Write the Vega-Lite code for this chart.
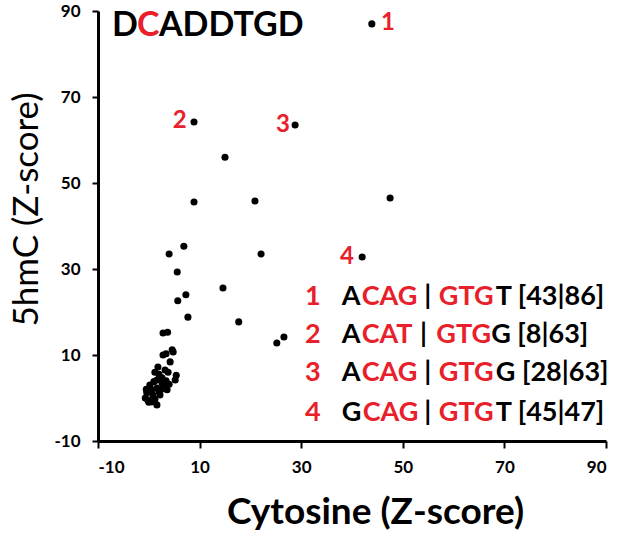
{
  "$schema": "https://vega.github.io/schema/vega-lite/v6.json",
  "width": 508,
  "height": 430,
  "autosize": {"type": "none"},
  "padding": {"left": 98, "top": 11, "right": 19, "bottom": 99},
  "background": "white",
  "config": {"view": {"stroke": null}},
  "datasets": {
    "points": [
      {"cytosine": 43.9, "hmc": 87.0}, {"cytosine": 8.9, "hmc": 64.2}, {"cytosine": 28.8, "hmc": 63.5},
      {"cytosine": 15.0, "hmc": 56.0}, {"cytosine": 8.9, "hmc": 45.6}, {"cytosine": 20.9, "hmc": 45.8},
      {"cytosine": 47.5, "hmc": 46.5}, {"cytosine": 4.0, "hmc": 33.5}, {"cytosine": 6.9, "hmc": 35.3},
      {"cytosine": 22.1, "hmc": 33.5}, {"cytosine": 42.0, "hmc": 32.8}, {"cytosine": 5.6, "hmc": 29.3},
      {"cytosine": 14.6, "hmc": 25.6}, {"cytosine": 7.3, "hmc": 24.0}, {"cytosine": 5.7, "hmc": 22.6},
      {"cytosine": 7.7, "hmc": 18.8}, {"cytosine": 17.7, "hmc": 17.7}, {"cytosine": 25.2, "hmc": 12.8},
      {"cytosine": 26.6, "hmc": 14.2}, {"cytosine": 2.8, "hmc": 15.1}, {"cytosine": 3.7, "hmc": 15.3},
      {"cytosine": 4.6, "hmc": 11.2}, {"cytosine": 4.8, "hmc": 10.7}, {"cytosine": 3.4, "hmc": 10.3},
      {"cytosine": 2.8, "hmc": 10.0}, {"cytosine": 4.2, "hmc": 8.4}, {"cytosine": 1.8, "hmc": 7.2},
      {"cytosine": 1.2, "hmc": 6.0}, {"cytosine": 3.8, "hmc": 6.0}, {"cytosine": 5.4, "hmc": 5.3},
      {"cytosine": 5.2, "hmc": 4.2}, {"cytosine": 2.6, "hmc": 3.5}, {"cytosine": 0.2, "hmc": 3.0},
      {"cytosine": 1.6, "hmc": 2.3}, {"cytosine": -0.4, "hmc": 1.2}, {"cytosine": -0.7, "hmc": 0.0},
      {"cytosine": 0.6, "hmc": -0.9}, {"cytosine": 1.6, "hmc": -1.6}, {"cytosine": -0.2, "hmc": -0.5},
      {"cytosine": 3.6, "hmc": 1.9}, {"cytosine": 2.2, "hmc": 0.7}, {"cytosine": 0.8, "hmc": 0.7},
      {"cytosine": 2.6, "hmc": 4.7}, {"cytosine": 3.2, "hmc": 6.5}, {"cytosine": 1.6, "hmc": 4.2},
      {"cytosine": 0.6, "hmc": 1.9}, {"cytosine": 2.0, "hmc": 5.5}, {"cytosine": 1.0, "hmc": 3.8},
      {"cytosine": 3.0, "hmc": 2.8}, {"cytosine": -0.5, "hmc": 2.0}, {"cytosine": 0.0, "hmc": -1.0},
      {"cytosine": 4.0, "hmc": 3.2}, {"cytosine": 2.0, "hmc": 1.5}, {"cytosine": 1.2, "hmc": -0.3},
      {"cytosine": 2.4, "hmc": 2.0}, {"cytosine": 3.4, "hmc": 4.0}
    ],
    "pointLabels": [
      {"cytosine": 47.1, "hmc": 87.2, "label": "1"},
      {"cytosine": 6.1, "hmc": 64.4, "label": "2"},
      {"cytosine": 26.4, "hmc": 63.5, "label": "3"},
      {"cytosine": 39.0, "hmc": 32.8, "label": "4"}
    ],
    "titleParts": [
      {"cytosine": -7.24, "hmc": 86.5, "text": "D", "kind": "base"},
      {"cytosine": -2.32, "hmc": 86.5, "text": "C", "kind": "motif"},
      {"cytosine": 2.0, "hmc": 86.5, "text": "ADDTGD", "kind": "base"}
    ],
    "keyNumbers": [
      {"cytosine": 32.3, "hmc": 23.6, "label": "1"},
      {"cytosine": 32.3, "hmc": 14.7, "label": "2"},
      {"cytosine": 32.3, "hmc": 5.7, "label": "3"},
      {"cytosine": 32.3, "hmc": -3.5, "label": "4"}
    ],
    "keyParts": [
      {"cytosine": 38.0, "hmc": 23.6, "text": "A", "kind": "base"},
      {"cytosine": 41.9, "hmc": 23.6, "text": "CAG", "kind": "motif"},
      {"cytosine": 54.2, "hmc": 23.6, "text": "|", "kind": "base"},
      {"cytosine": 57.1, "hmc": 23.6, "text": "GTG", "kind": "motif"},
      {"cytosine": 68.3, "hmc": 23.6, "text": "T [43|86]", "kind": "base"},
      {"cytosine": 38.0, "hmc": 14.7, "text": "A", "kind": "base"},
      {"cytosine": 41.9, "hmc": 14.7, "text": "CAT", "kind": "motif"},
      {"cytosine": 53.4, "hmc": 14.7, "text": "|", "kind": "base"},
      {"cytosine": 56.6, "hmc": 14.7, "text": "GTG", "kind": "motif"},
      {"cytosine": 67.4, "hmc": 14.7, "text": "G [8|63]", "kind": "base"},
      {"cytosine": 38.0, "hmc": 5.7, "text": "A", "kind": "base"},
      {"cytosine": 41.9, "hmc": 5.7, "text": "CAG", "kind": "motif"},
      {"cytosine": 54.2, "hmc": 5.7, "text": "|", "kind": "base"},
      {"cytosine": 57.1, "hmc": 5.7, "text": "GTG", "kind": "motif"},
      {"cytosine": 68.3, "hmc": 5.7, "text": "G [28|63]", "kind": "base"},
      {"cytosine": 38.0, "hmc": -3.5, "text": "G", "kind": "base"},
      {"cytosine": 42.1, "hmc": -3.5, "text": "CAG", "kind": "motif"},
      {"cytosine": 54.2, "hmc": -3.5, "text": "|", "kind": "base"},
      {"cytosine": 57.1, "hmc": -3.5, "text": "GTG", "kind": "motif"},
      {"cytosine": 68.3, "hmc": -3.5, "text": "T [45|47]", "kind": "base"}
    ]
  },
  "encoding": {
    "x": {
      "field": "cytosine", "type": "quantitative",
      "scale": {"domain": [-10, 90], "nice": false, "zero": false},
      "axis": {
        "values": [-10, 10, 30, 50, 70, 90], "grid": false, "labelExpr": "'' + datum.value",
        "domainColor": "black", "domainWidth": 3, "tickColor": "black", "tickWidth": 2, "tickSize": 7,
        "labelFont": "Lato", "labelFontWeight": "bold", "labelFontSize": 17, "labelColor": "black", "labelPadding": 11,
        "title": "Cytosine (Z-score)", "titleFont": "Lato", "titleFontSize": 37, "titleFontWeight": "bold",
        "titleColor": "black", "titlePadding": 19, "titleX": 277
      }
    },
    "y": {
      "field": "hmc", "type": "quantitative",
      "scale": {"domain": [-10, 90], "nice": false, "zero": false},
      "axis": {
        "values": [-10, 10, 30, 50, 70, 90], "grid": false, "labelExpr": "'' + datum.value",
        "domainColor": "black", "domainWidth": 3, "tickColor": "black", "tickWidth": 2, "tickSize": 6,
        "labelFont": "Lato", "labelFontWeight": "bold", "labelFontSize": 17, "labelColor": "black", "labelPadding": 12,
        "title": "5hmC (Z-score)", "titleFont": "Lato", "titleFontSize": 35, "titleFontWeight": "normal",
        "titleColor": "black", "titlePadding": 9, "titleY": 198
      }
    }
  },
  "layer": [
    {
      "data": {"name": "points"},
      "mark": {"type": "circle", "color": "black", "opacity": 1, "size": 50}
    },
    {
      "data": {"name": "pointLabels"},
      "mark": {"type": "text", "color": "#e8202a", "font": "Lato", "fontWeight": "bold", "fontSize": 24, "align": "center", "baseline": "middle"},
      "encoding": {"text": {"field": "label"}}
    },
    {
      "data": {"name": "titleParts"},
      "mark": {"type": "text", "font": "Lato", "fontWeight": "bold", "fontSize": 34, "align": "left", "baseline": "middle"},
      "encoding": {
        "text": {"field": "text"},
        "color": {"field": "kind", "type": "nominal", "scale": {"domain": ["motif", "base"], "range": ["#e8202a", "black"]}, "legend": null}
      }
    },
    {
      "data": {"name": "keyNumbers"},
      "mark": {"type": "text", "color": "#e8202a", "font": "Lato", "fontWeight": "bold", "fontSize": 27, "align": "center", "baseline": "middle"},
      "encoding": {"text": {"field": "label"}}
    },
    {
      "data": {"name": "keyParts"},
      "mark": {"type": "text", "font": "Lato", "fontWeight": "bold", "fontSize": 27, "align": "left", "baseline": "middle"},
      "encoding": {
        "text": {"field": "text"},
        "color": {"field": "kind", "type": "nominal", "scale": {"domain": ["motif", "base"], "range": ["#e8202a", "black"]}, "legend": null}
      }
    }
  ]
}
